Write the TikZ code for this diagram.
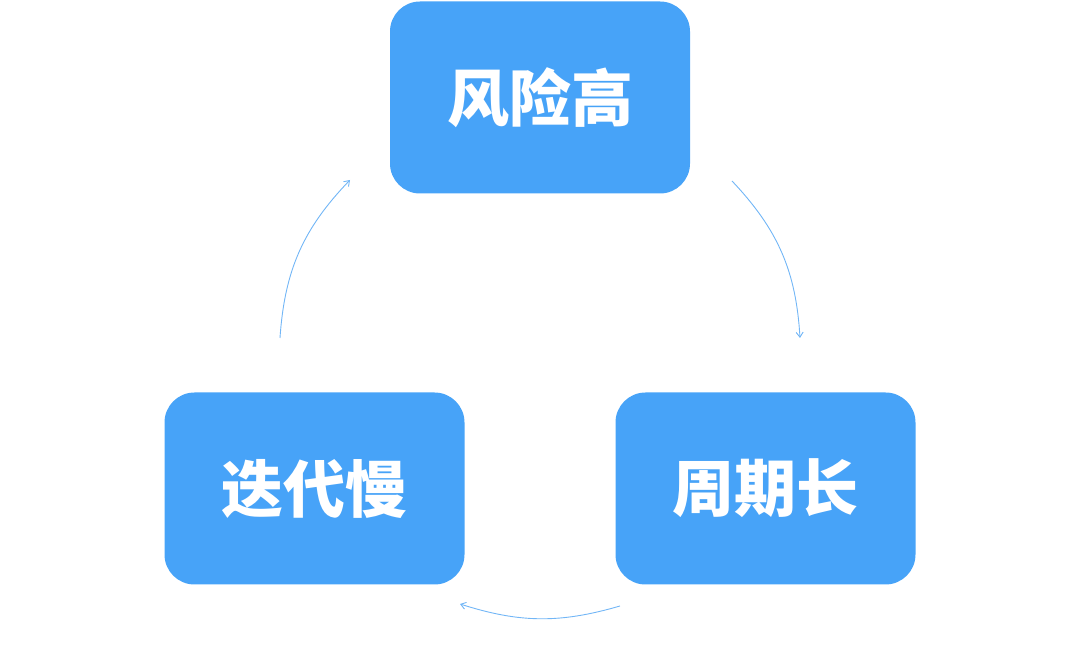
\documentclass[tikz,border=0pt]{standalone}
\usepackage{fontspec}
\newfontfamily\cjk{Noto Sans CJK SC}
\usetikzlibrary{arrows.meta}
\definecolor{boxblue}{HTML}{47A3F8}
\definecolor{arrowblue}{HTML}{72B6F6}
\newcommand{\boxtext}[1]{\raisebox{4pt}{#1}}
\tikzset{
  stagebox/.style={fill=boxblue, draw=none, rounded corners=30pt, minimum width=300pt, minimum height=192pt, text=white, font=\cjk\bfseries\fontsize{62pt}{66pt}\selectfont, inner sep=0pt},
  cyclearrow/.style={draw=arrowblue, line width=0.9pt, -{Straight Barb[length=5pt,width=7pt]}}
}
\begin{document}
\begin{tikzpicture}[x=1pt,y=1pt]
\useasboundingbox (0,0) rectangle (1080,655);
\node[stagebox] (risk) at (540,557.5) {\boxtext{风险高}};
\node[stagebox] (slow) at (314.5,166.5) {\boxtext{迭代慢}};
\node[stagebox] (long) at (765.5,166.5) {\boxtext{周期长}};
\coordinate (a1s) at (732,474);
\coordinate (a1e) at (800,317);
\coordinate (a2s) at (620,49);
\coordinate (a2e) at (460,51);
\coordinate (a3s) at (280,317);
\coordinate (a3e) at (350,475);
\draw[cyclearrow] (a1s) to[bend left=20] (a1e);
\draw[cyclearrow] (a2s) to[bend left=17] (a2e);
\draw[cyclearrow] (a3s) to[bend left=20] (a3e);
\end{tikzpicture}
\end{document}
